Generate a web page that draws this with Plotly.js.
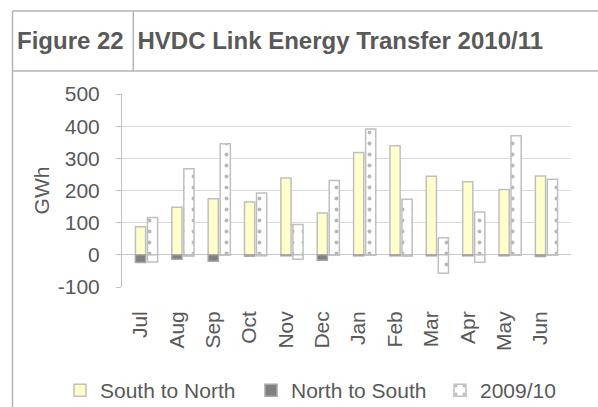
<!DOCTYPE html>
<html>
<head>
<meta charset="utf-8">
<script src="https://cdn.plot.ly/plotly-3.0.1.min.js"></script>
<style>
  html, body { margin: 0; padding: 0; background: #ffffff; }
  #chart { width: 598px; height: 407px; }
</style>
</head>
<body>
<div id="chart"></div>
<script>
// ---- data (GWh) ----
var months = ["Jul", "Aug", "Sep", "Oct", "Nov", "Dec", "Jan", "Feb", "Mar", "Apr", "May", "Jun"];
var southToNorth = [87, 148, 174, 164, 239, 130, 318, 339, 244, 227, 203, 245];
var northToSouth = [-24, -14, -20, -4, -3, -17, -3, -3, -3, -3, -3, -5];
var prevYearS2N = [116, 268, 345, 192, 94, 231, 391, 173, 53, 133, 370, 235];
var prevYearN2S = [-22, -4, -1, -3, -14, -1, -1, -4, -57, -23, -1, -1];
var seriesNames = ["South to North", "North to South", "2009/10"];
var yTicks = [-100, 0, 100, 200, 300, 400, 500];
var yTickLabels = ["-100", "0", "100", "200", "300", "400", "500"];

// ---- geometry helpers (pixels -> paper) ----
var L = 122, R = 27, T = 94, B = 120, W = 598, H = 407;
var PW = W - L - R, PH = H - T - B;
function xp(px) { return (px - L) / PW; }
function yp(py) { return (H - B - py) / PH; }

var FONT = "Arial, 'Liberation Sans', sans-serif";
var TXT = "#595959";
var EDGE = "#bfbfbf";
var BW = 0.28;

var dotPattern = { shape: ".", bgcolor: "#ffffff", fgcolor: "#707070", size: 11, solidity: 0.1, fillmode: "overlay" };

var traces = [
  { type: "bar", name: seriesNames[0], x: months, y: southToNorth, offset: -0.14, width: BW, legendwidth: 146,
    marker: { color: "#ffffcc", line: { color: EDGE, width: 1.5 } }, legendgroup: "a" },
  { type: "bar", name: seriesNames[1], x: months, y: northToSouth, offset: -0.14, width: BW, legendwidth: 144,
    marker: { color: "#808080", line: { color: "#a6a6a6", width: 1.5 } }, legendgroup: "b" },
  { type: "bar", name: seriesNames[2], x: months, y: prevYearS2N, offset: 0.19, width: BW, legendwidth: 76,
    marker: { color: "#ffffff", pattern: dotPattern, line: { color: EDGE, width: 1.5 } }, legendgroup: "c" },
  { type: "bar", name: seriesNames[2], x: months, y: prevYearN2S, offset: 0.19, width: BW, showlegend: false,
    marker: { color: "#ffffff", pattern: dotPattern, line: { color: EDGE, width: 1.5 } }, legendgroup: "c" }
];

var frame = "#b4b4b4";
var layout = {
  width: W, height: H,
  margin: { l: L, r: R, t: T, b: B, pad: 0, autoexpand: false },
  paper_bgcolor: "#ffffff", plot_bgcolor: "#ffffff",
  font: { family: FONT, size: 21, color: TXT },
  barmode: "overlay",
  showlegend: true,
  title: { text: "<b>HVDC Link Energy Transfer 2010/11</b>", font: { family: FONT, size: 24, color: TXT },
           xref: "container", yref: "container", x: 137.5 / W, xanchor: "left", y: 1 - 41 / H, yanchor: "middle", pad: { l: 0, r: 0, t: 0, b: 0 } },
  xaxis: {
    type: "category", range: [-0.51, 11.84], fixedrange: true,
    showgrid: false, zeroline: false, showline: false, ticks: "",
    tickangle: -90, tickfont: { family: FONT, size: 21, color: TXT },
    ticklabelstandoff: 19
  },
  yaxis: {
    range: [-100, 500], tickvals: yTicks, ticktext: yTickLabels, fixedrange: true,
    showgrid: true, gridcolor: "#d9d9d9", gridwidth: 1,
    zeroline: true, zerolinecolor: "#c8c8c8", zerolinewidth: 1,
    showline: true, linecolor: EDGE, linewidth: 1,
    ticks: "outside", ticklen: 5, tickcolor: EDGE,
    tickfont: { family: FONT, size: 21, color: TXT },
    ticklabelstandoff: 12,
    title: { text: "GWh", font: { family: FONT, size: 21, color: TXT }, standoff: 2 }
  },
  legend: {
    orientation: "h", xref: "paper", yref: "paper",
    x: xp(60), xanchor: "left", y: yp(370), yanchor: "top",
    font: { family: FONT, size: 21, color: TXT }, bgcolor: "rgba(0,0,0,0)", borderwidth: 0
  },
  annotations: [
    { text: "<b>Figure 22</b>", xref: "paper", yref: "paper", x: xp(14.7), y: yp(41), xanchor: "left", yanchor: "middle",
      showarrow: false, font: { family: FONT, size: 24, color: TXT } }
  ],
  shapes: [
    { type: "line", xref: "paper", yref: "paper", x0: xp(12.5), x1: xp(12.5), y0: yp(11), y1: yp(407), line: { color: frame, width: 1.5 } },
    { type: "line", xref: "paper", yref: "paper", x0: xp(12.5), x1: xp(598), y0: yp(11), y1: yp(11), line: { color: frame, width: 1.5 } },
    { type: "line", xref: "paper", yref: "paper", x0: xp(12.5), x1: xp(598), y0: yp(71), y1: yp(71), line: { color: frame, width: 1.5 } },
    { type: "line", xref: "paper", yref: "paper", x0: xp(133.3), x1: xp(133.3), y0: yp(11), y1: yp(71), line: { color: frame, width: 1.5 } }
  ]
};

Plotly.newPlot("chart", traces, layout, { displayModeBar: false, staticPlot: true });
</script>
</body>
</html>
